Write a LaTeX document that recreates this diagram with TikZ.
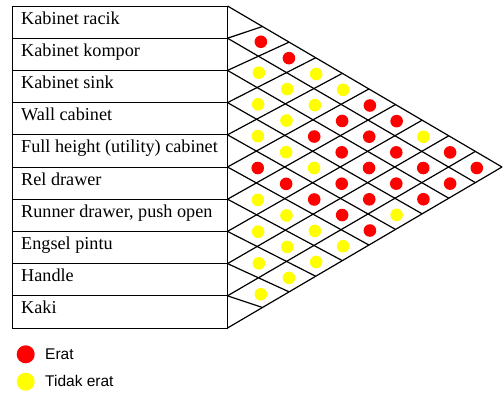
\documentclass[tikz,border=0pt]{standalone}
\usepackage{fontspec}
\setmainfont{Liberation Serif}
\newfontfamily\legendfont{Liberation Sans}
\usetikzlibrary{calc}
\definecolor{dotred}{RGB}{255,0,0}
\definecolor{dotyellow}{RGB}{255,255,0}
\tikzset{
  gridline/.style={line width=1.2pt, line join=miter},
  rowbox/.style={draw, line width=1pt, minimum width=215.5pt, minimum height=32.2pt, inner sep=0pt, outer sep=0pt},
  rowtext/.style={anchor=base west, inner sep=0pt, font=\rmfamily\fontsize{18.2}{20}\selectfont},
  dotnode/.style={circle, inner sep=0pt, minimum size=12.6pt},
  legenddot/.style={circle, inner sep=0pt, minimum size=18pt},
  legendtext/.style={anchor=base west, inner sep=0pt, font=\legendfont\fontsize{15.5}{18}\selectfont},
}
\begin{document}
\begin{tikzpicture}[x=1pt,y=-1pt]
\useasboundingbox (0,0) rectangle (503,394);
\fill[white] (0,0) rectangle (503,394);
% table rows
\foreach \k/\txt in {1/Kabinet racik, 2/Kabinet kompor, 3/Kabinet sink, 4/Wall cabinet, 5/Full height (utility) cabinet, 6/Rel drawer, 7/{Runner drawer, push open}, 8/Engsel pintu, 9/Handle, 10/Kaki} {
  \node[rowbox] (row\k) at (119.75, {6+32.2*(\k-0.5)}) {};
  \node[rowtext] (lab\k) at (21, {6+32.2*(\k-1)+18}) {\txt};
}
% grid end points
\foreach \k in {0,...,10} \coordinate (L\k) at (227.5, {6+32.2*\k});
\foreach \k in {1,...,10} \coordinate (T\k) at ({262.5+26.61*(\k-1)}, {6+(35+26.61*(\k-1))*0.58652});
\foreach \k in {0,...,9} \coordinate (B\k) at ({262.5+26.61*(9-\k)}, {328-(35+26.61*(9-\k))*0.58652});
% grid lines
\draw[gridline] (L0) -- (L10);
\foreach \k in {0,...,9} \draw[gridline] (L\k) -- (B\k);
\foreach \k in {1,...,10} \draw[gridline] (L\k) -- (T\k);
% intersections
\foreach \a in {0,...,10} \coordinate (P-\a-\a) at (L\a);
\foreach \a in {0,...,9} {
  \pgfmathtruncatemacro\bs{\a+1}
  \foreach \b in {\bs,...,10} {
    \edef\mkpt{\noexpand\coordinate (P-\a-\b) at (intersection of L\a--B\a\space and L\b--T\b);}
    \mkpt
  }
}
% dots
\foreach \i/\j/\c in {
  1/2/dotred, 1/3/dotred,
  2/3/dotyellow, 1/4/dotyellow,
  2/4/dotyellow, 1/5/dotyellow,
  3/4/dotyellow, 2/5/dotyellow, 1/6/dotred,
  3/5/dotyellow, 2/6/dotred, 1/7/dotred,
  4/5/dotyellow, 3/6/dotred, 2/7/dotred, 1/8/dotyellow,
  4/6/dotyellow, 3/7/dotred, 2/8/dotred, 1/9/dotred,
  5/6/dotred, 4/7/dotyellow, 3/8/dotred, 2/9/dotred, 1/10/dotred,
  5/7/dotred, 4/8/dotred, 3/9/dotred, 2/10/dotred,
  6/7/dotyellow, 5/8/dotred, 4/9/dotred, 3/10/dotred,
  6/8/dotyellow, 5/9/dotred, 4/10/dotyellow,
  7/8/dotyellow, 6/9/dotyellow, 5/10/dotred,
  7/9/dotyellow, 6/10/dotyellow,
  8/9/dotyellow, 7/10/dotyellow,
  8/10/dotyellow,
  9/10/dotyellow} {
  \pgfmathtruncatemacro\ia{\i-1}
  \pgfmathtruncatemacro\jb{\j-1}
  \node[dotnode, fill=\c] (d-\i-\j) at ($0.25*(P-\ia-\jb)+0.25*(P-\ia-\j)+0.25*(P-\i-\jb)+0.25*(P-\i-\j)+(1.5,1)$) {};
}
% legend
\node[legenddot, fill=dotred] (legred) at (25.7, 354.3) {};
\node[legendtext] (legredtxt) at (45, 359.3) {Erat};
\node[legenddot, fill=dotyellow] (legyel) at (25.7, 381.7) {};
\node[legendtext] (legyeltxt) at (45, 386.7) {Tidak erat};
\end{tikzpicture}
\end{document}
